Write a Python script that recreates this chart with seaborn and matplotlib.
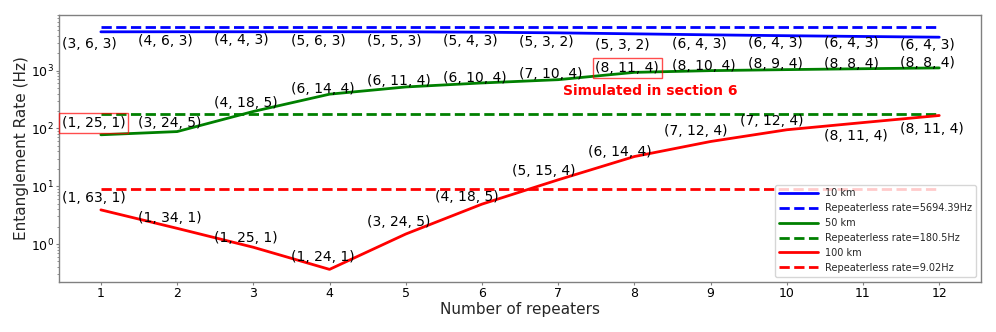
import numpy as np
import pandas as pd
import matplotlib
matplotlib.use("Agg")
import matplotlib.pyplot as plt
import seaborn as sns

# ---------------- data ----------------
repeaters = [1, 2, 3, 4, 5, 6, 7, 8, 9, 10, 11, 12]

rate_10km = [4670, 4680, 4680, 4680, 4670, 4600, 4480, 4310, 4140, 4000, 3880, 3770]
rate_50km = [77.5, 88, 196, 390, 520, 610, 695, 930, 996, 1037, 1075, 1110]
rate_100km = [3.9, 1.87, 0.88, 0.365, 1.49, 4.9, 12.9, 32.6, 59.3, 94.6, 126, 167]

repeaterless_10km = 5694.39
repeaterless_50km = 180.5
repeaterless_100km = 9.02

labels_10km = ["(3, 6, 3)", "(4, 6, 3)", "(4, 4, 3)", "(5, 6, 3)", "(5, 5, 3)", "(5, 4, 3)",
               "(5, 3, 2)", "(5, 3, 2)", "(6, 4, 3)", "(6, 4, 3)", "(6, 4, 3)", "(6, 4, 3)"]
labels_50km = ["(1, 25, 1)", "(3, 24, 5)", "(4, 18, 5)", "(6, 14, 4)", "(6, 11, 4)", "(6, 10, 4)",
               "(7, 10, 4)", "(8, 11, 4)", "(8, 10, 4)", "(8, 9, 4)", "(8, 8, 4)", "(8, 8, 4)"]
labels_100km = ["(1, 63, 1)", "(1, 34, 1)", "(1, 25, 1)", "(1, 24, 1)", "(3, 24, 5)", "(4, 18, 5)",
                "(5, 15, 4)", "(6, 14, 4)", "(7, 12, 4)", "(7, 12, 4)", "(8, 11, 4)", "(8, 11, 4)"]

highlight_50km = [0, 7]          # indices of boxed labels on the 50 km curve
note_text = "Simulated in section 6"

# ---------------- label placement (pixels; dy positive = downwards) ----------------
dx_10km = [-39] * 12
dy_10km = [12.4, 9.4, 8.4, 9.4, 9.1, 8.6, 8.9, 11.4, 8.7, 7.7, 7.0, 8.0]
dx_50km = [-39] * 12
dy_50km = [-11.6, -8.7, -8.0, -5.3, -5.6, -5.3, -5.3, -4.3, -4.6, -6.0, -5.0, -5.3]
dx_100km = [-39] * 5 + [-46.5] * 5 + [-39] * 2
dy_100km = [-11.6, -10.3, -9.3, -11.9, -12.3, -7.3, -8.6, -5.0, -11.0, -8.6, 13.0, 13.3]

# ---------------- style ----------------
sns.set_style("ticks")
plt.rcParams["font.family"] = ["DejaVu Sans"]
plt.rcParams["axes.edgecolor"] = "grey"
plt.rcParams["axes.linewidth"] = 1.0
plt.rcParams["xtick.color"] = "grey"
plt.rcParams["ytick.color"] = "grey"
plt.rcParams["xtick.labelcolor"] = "black"
plt.rcParams["ytick.labelcolor"] = "black"
plt.rcParams["xtick.major.size"] = 2
plt.rcParams["ytick.major.size"] = 2
plt.rcParams["ytick.minor.size"] = 1.2
plt.rcParams["xtick.major.pad"] = 2
plt.rcParams["ytick.major.pad"] = 1.8
plt.rcParams["ytick.minor.pad"] = 1.8
plt.rcParams["xtick.labelsize"] = 9
plt.rcParams["ytick.labelsize"] = 9

fig = plt.figure(figsize=(9.96, 3.32), dpi=100)
ax = fig.add_axes([0.0592, 0.1521, 0.9259, 0.8036])

n = len(repeaters)
series = [
    ("10 km", rate_10km, repeaterless_10km, "blue", "Repeaterless rate=5694.39Hz"),
    ("50 km", rate_50km, repeaterless_50km, "green", "Repeaterless rate=180.5Hz"),
    ("100 km", rate_100km, repeaterless_100km, "red", "Repeaterless rate=9.02Hz"),
]
for name, vals, rl, col, rl_label in series:
    df = pd.DataFrame({"Number of repeaters": repeaters, "rate": vals})
    sns.lineplot(data=df, x="Number of repeaters", y="rate", color=col, lw=2,
                 label=name, ax=ax)
    df_rl = pd.DataFrame({"Number of repeaters": repeaters, "rate": np.full(n, rl)})
    sns.lineplot(data=df_rl, x="Number of repeaters", y="rate", color=col, lw=2,
                 linestyle="--", label=rl_label, ax=ax)

ax.set_yscale("log")
ax.set_xticks(repeaters)

def put_labels(vals, labels, dxs, dys, boxed=()):
    for i, (xv, yv, lab) in enumerate(zip(repeaters, vals, labels)):
        kw = {}
        if i in boxed:
            kw["bbox"] = dict(boxstyle="square,pad=0.2", fc="none", ec="red",
                              lw=1, alpha=0.7)
        ax.annotate(lab, (xv, yv), xytext=(dxs[i], -dys[i]), textcoords="offset pixels",
                    ha="left", va="center", fontsize=10, color="black", **kw)

put_labels(rate_10km, labels_10km, dx_10km, dy_10km)
put_labels(rate_50km, labels_50km, dx_50km, dy_50km, boxed=highlight_50km)
put_labels(rate_100km, labels_100km, dx_100km, dy_100km)

ax.annotate(note_text, (repeaters[7], rate_50km[7]), xytext=(16, -18.6),
            textcoords="offset pixels", ha="center", va="center",
            fontsize=10, fontweight="bold", color="red")

ax.set_xlabel("Number of repeaters", fontsize=11, labelpad=1.5)
ax.set_ylabel("Entanglement Rate (Hz)", fontsize=11)
ax.yaxis.set_label_coords(-0.0322, 0.5)

ax.legend(loc="lower right", fontsize=7, handlelength=4)

fig.savefig("out.png", dpi=100)
